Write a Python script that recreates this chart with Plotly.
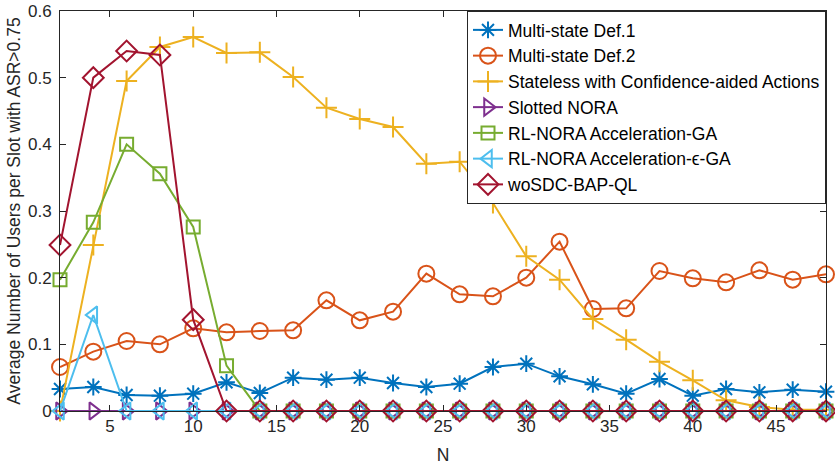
import plotly.graph_objects as go

N = [2, 4, 6, 8, 10, 12, 14, 16, 18, 20, 22, 24, 26, 28, 30, 32, 34, 36, 38, 40, 42, 44, 46, 48]

def1 = [0.033, 0.036, 0.024, 0.023, 0.026, 0.043, 0.027, 0.050, 0.047, 0.050, 0.042, 0.036,
        0.041, 0.066, 0.071, 0.052, 0.040, 0.026, 0.048, 0.023, 0.033, 0.028, 0.032, 0.029]
def2 = [0.066, 0.089, 0.105, 0.100, 0.124, 0.118, 0.120, 0.121, 0.166, 0.136, 0.149, 0.206,
        0.175, 0.172, 0.200, 0.254, 0.153, 0.154, 0.210, 0.199, 0.193, 0.211, 0.197, 0.205]
stateless = [0.0, 0.249, 0.495, 0.546, 0.561, 0.537, 0.538, 0.501, 0.455, 0.438, 0.426, 0.371,
             0.374, 0.312, 0.232, 0.197, 0.138, 0.107, 0.074, 0.046, 0.016, 0.006, 0.002, 0.002]
slotted = [0.0] * 24
rl_ga = [0.197, 0.283, 0.400, 0.356, 0.276, 0.068] + [0.0] * 18
rl_eps_ga = [0.0, 0.144] + [0.0] * 22
wosdc = [0.249, 0.500, 0.540, 0.534, 0.137] + [0.0] * 19

series = [
    ("Multi-state Def.1", def1, "#0072BD", "asterisk-open", 14),
    ("Multi-state Def.2", def2, "#D95319", "circle-open", 16),
    ("Stateless with Confidence-aided Actions", stateless, "#EDB120", "cross-thin-open", 15),
    ("Slotted NORA", slotted, "#7E2F8E", "triangle-right-open", 15),
    ("RL-NORA Acceleration-GA", rl_ga, "#77AC30", "square-open", 13),
    ("RL-NORA Acceleration-\u03f5-GA", rl_eps_ga, "#4DBEEE", "triangle-left-open", 15),
    ("woSDC-BAP-QL", wosdc, "#A2142F", "diamond-open", 16),
]

fig = go.Figure()
for name, ys, color, sym, sz in series:
    fig.add_trace(go.Scatter(
        x=N, y=ys, name=name, mode="lines+markers",
        line=dict(color=color, width=2),
        marker=dict(symbol=sym, size=sz, color=color, line=dict(color=color, width=2)),
        cliponaxis=False,
    ))

FONT = "Liberation Sans, Arial, Helvetica"
axis_common = dict(
    showline=True, linecolor="#262626", linewidth=1, mirror="ticks",
    ticks="inside", ticklen=6, tickcolor="#262626", showgrid=False, zeroline=False,
    automargin=False,
    tickfont=dict(family=FONT, size=17, color="#262626"),
)

fig.update_layout(
    width=835, height=465,
    margin=dict(l=60, r=9, t=11, b=54),
    paper_bgcolor="white", plot_bgcolor="white",
    font=dict(family=FONT, size=17, color="#262626"),
    xaxis=dict(range=[2, 48], tickvals=[5, 10, 15, 20, 25, 30, 35, 40, 45],
               title=dict(text="N", standoff=13, font=dict(size=17.5)), **axis_common),
    yaxis=dict(range=[0, 0.6], tickvals=[0, 0.1, 0.2, 0.3, 0.4, 0.5, 0.6],
               ticktext=["0", "0.1", "0.2", "0.3", "0.4", "0.5", "0.6"],
               ticklabelstandoff=4,
               title=dict(text="Average Number of Users per Slot with ASR>0.75", standoff=2,
                          font=dict(size=17.5)), **axis_common),
    legend=dict(x=1.0, y=1.0, xanchor="right", yanchor="top",
                bordercolor="#262626", borderwidth=1, bgcolor="white",
                font=dict(family=FONT, size=17.5, color="black"),
                itemwidth=30, tracegroupgap=0),
    showlegend=True,
)

fig.write_html("out.html")
